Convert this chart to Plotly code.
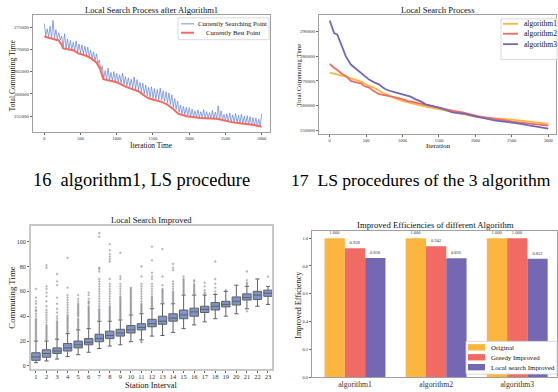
import plotly.graph_objects as go

W, H = 558, 392
def px(x): return x / W
def py(y): return 1 - y / H

SERIF = "Liberation Serif"

# ---------------- Fig 16: algorithm1 local search ----------------
search_iter = list(range(0, 3001, 20))
search_vals = [
    275800, 273000, 274600, 272800, 275200, 272700, 276500, 272600, 274400, 272300,
    273700, 272100, 273000, 270400, 273500, 270200, 272300, 270100, 272000, 270000,
    271600, 269700, 271900, 269400, 271200, 269100, 271000, 268900, 270700, 268600,
    270500, 268300, 269800, 267900, 269400, 267400, 269000, 266800, 267600, 265200,
    266300, 263500, 265200, 263300, 265800, 263100, 264800, 262900, 265000, 262800,
    264600, 262700, 264300, 262400, 264700, 262100, 263900, 261800, 263600, 261600,
    263300, 261300, 263800, 261100, 263200, 260900, 262600, 260500, 262400, 260000,
    262000, 259600, 261500, 259200, 261600, 259100, 261200, 258900, 261000, 258700,
    261300, 258600, 260700, 258300, 260500, 258000, 260200, 257600, 259800, 257000,
    258900, 256500, 258400, 255800, 257500, 255500, 257200, 255300, 257000, 255100,
    256900, 254900, 256600, 254800, 256200, 254800, 256400, 254700, 256000, 254700,
    256500, 254600, 256000, 254600, 255800, 254500, 256300, 254500, 255900, 254400,
    257300, 254200, 256200, 254100, 255400, 254000, 255500, 253800, 255700, 253700,
    255300, 253600, 255600, 253500, 255200, 253400, 255400, 253300, 255000, 253200,
    255100, 253100, 254900, 253000, 254700, 252900, 254600, 252800, 254300, 252700,
    255500,
]
best_iter = [0, 100, 200, 240, 260, 400, 470, 585, 650, 722, 768, 815, 900, 1000,
             1136, 1228, 1300, 1400, 1458, 1600, 1688, 1780, 1850, 1965, 2150, 2380,
             2517, 2600, 2747, 2900, 3000]
best_vals = [272900, 272500, 272000, 271000, 270200, 269800, 269100, 268500, 267900,
             267000, 265700, 263300, 263000, 262600, 261500, 261000, 260600, 259400,
             258900, 258300, 257700, 256600, 255500, 255000, 254600, 254400, 253900,
             253600, 253300, 253000, 252600]

# ---------------- Fig 17: three algorithms ----------------
alg1_iter = [0, 100, 220, 290, 357, 420, 494, 560, 631, 720, 814, 900, 997, 1110, 1226,
             1360, 1500, 1660, 1821, 1940, 2050, 2160, 2278, 2390, 2507, 2620, 2735, 2860, 3000]
alg1_vals = [273300, 272700, 271700, 271000, 270300, 269800, 268600, 267800, 266900,
             265300, 263900, 262900, 261900, 261000, 260200, 259400, 258600, 257600,
             256600, 255800, 255200, 255000, 254800, 254600, 254300, 253900, 253600,
             253100, 252600]
alg2_iter = [0, 50, 110, 160, 220, 290, 330, 425, 480, 540, 600, 677, 750, 814, 900, 997,
             1070, 1134, 1250, 1363, 1480, 1592, 1700, 1821, 1930, 2050, 2160, 2278, 2400,
             2507, 2620, 2735, 2860, 3000]
alg2_vals = [276900, 275500, 274300, 273000, 272000, 270000, 269600, 269000, 267800,
             267300, 266000, 264600, 264200, 263900, 263300, 262600, 261800, 261500,
             260700, 260200, 259200, 258600, 257800, 257200, 256300, 255600, 255100,
             254500, 254000, 253500, 253100, 252800, 252300, 251900]
alg3_iter = [0, 30, 60, 105, 150, 220, 290, 350, 400, 470, 540, 610, 677, 720, 768, 840,
             906, 970, 1043, 1110, 1180, 1250, 1318, 1400, 1500, 1590, 1683, 1770, 1866,
             1950, 2050, 2160, 2278, 2390, 2507, 2620, 2735, 2860, 3000]
alg3_vals = [294400, 292000, 289300, 288700, 285300, 280000, 276600, 275200, 273900,
             272300, 270500, 269400, 268600, 267500, 266600, 265800, 265200, 264600,
             264200, 263600, 262500, 261700, 260500, 260000, 259200, 258300, 257200,
             256900, 256600, 255900, 255200, 254600, 253900, 253500, 253100, 252600,
             252000, 251400, 250700]

# ---------------- Box plot: Local Search Improved ----------------
stations = list(range(1, 24))
q1 = [4.5, 7, 10, 12, 14.5, 17, 19.5, 22, 24, 26.5, 29, 31.5, 33.5, 36, 38, 40, 43, 45,
      47.5, 49, 53, 53.5, 56]
med = [7.2, 10, 12, 14.5, 17, 19, 22, 24.5, 26.5, 29, 31, 34, 36, 38.5, 41, 43.5, 45.5,
       48, 49.5, 52, 55, 57, 58.5]
q3 = [10.6, 13, 14.5, 18, 20, 22, 25.5, 28, 29.5, 32.5, 34, 37.5, 40, 42, 45, 46.5, 48,
      51, 52, 55.5, 58, 60, 61]
lo = [2.6, 4, 5.5, 7.5, 9, 11, 14, 16, 17, 19.5, 21, 24, 24.5, 27, 30, 33, 35.5, 38, 40,
      42, 46, 48, 49.5]
hi = [20, 20, 21.5, 26, 29, 30, 36, 36, 37, 41, 42, 46, 50, 50, 57, 57, 57, 57.5, 60, 65,
      64, 70, 64]
outliers = [
    [21, 22, 23, 24, 25, 26, 27, 28, 29, 30, 31, 32, 33, 34, 35, 36, 37, 38, 40, 42, 44, 45, 47, 50, 52, 55, 62],
    [21, 22, 23, 24, 25, 26, 27, 28, 29, 30, 31, 32, 33, 35, 37, 39, 41, 43, 45, 48, 52, 56, 59, 62, 64, 79, 81],
    [22, 23, 24, 25, 26, 27, 28, 29, 30, 31, 32, 33, 34, 35, 36, 38, 40, 43, 46, 50, 55, 65, 68, 74],
    [27, 28, 29, 30, 31, 32, 33, 34, 35, 36, 37, 38, 39, 40, 41, 43, 45, 47, 49, 51, 53, 55, 57, 63, 87],
    [30, 31, 32, 33, 34, 35, 36, 37, 38, 40, 41, 42, 43, 44, 45, 46, 47, 48, 49, 50, 52, 54, 57],
    [31, 32, 33, 34, 35, 36, 37, 38, 39, 40, 41, 42, 43, 44, 45, 46, 47, 48, 50, 51, 52, 54, 57, 59],
    [37, 38, 39, 40, 41, 42, 43, 44, 45, 46, 48, 50, 52, 54, 56, 58, 60, 62, 64, 66, 68, 70, 76, 78, 79, 104, 107],
    [37, 38, 39, 40, 41, 42, 43, 44, 45, 46, 47, 48, 50, 52, 54, 56, 58, 60, 62, 64, 66, 70, 84, 86, 88, 90, 93, 98],
    [38, 39, 40, 41, 42, 43, 44, 45, 46, 47, 48, 49, 50, 51, 52, 53, 54, 55, 56, 58, 60, 62, 64, 66, 70, 72, 91],
    [42, 43, 44, 45, 46, 47, 48, 49, 50, 51, 52, 53, 54, 55, 56, 57, 58, 59, 60, 61, 62, 63],
    [19, 20, 43, 44, 45, 46, 47, 48, 49, 50, 52, 54, 56, 58, 60, 62, 64, 66, 72, 80],
    [47, 48, 49, 50, 51, 52, 53, 54, 55, 56, 58, 60, 62, 64, 66, 70, 72, 75, 85, 96],
    [51, 52, 53, 54, 55, 56, 57, 58, 59, 60, 61, 62, 65, 72, 94],
    [51, 52, 53, 54, 55, 56, 57, 58, 59, 60, 62, 64, 66, 68, 77, 79, 82],
    [58, 59, 60, 61, 62, 63, 64, 65, 66, 67, 68, 69, 70, 72],
    [58, 59, 60, 61, 62, 63, 64, 65, 66, 68, 69],
    [58, 59, 61, 64, 67],
    [58, 60, 63, 66, 70, 84],
    [60, 61],
    [],
    [44, 65, 66, 67, 69, 76],
    [],
    [72],
]

# ---------------- Bar chart: Improved efficiencies ----------------
algorithms = ["algorithm1", "algorithm2", "algorithm3"]
eff_original = [1.000, 1.000, 1.000]
eff_greedy = [0.928, 0.942, 1.000]
eff_local = [0.858, 0.856, 0.852]

# colours
C_BLUE = "rgba(98,132,212,0.72)"
C_BEST = "#F26A62"
C_ORANGE = "#FCB63F"
C_RED = "#F16B64"
C_PURPLE = "#7468B2"
C_BOX = "#7D95CC"
C_BOXLINE = "#606060"
FRAME = "#a0a0a0"

fig = go.Figure()

# Fig 16
fig.add_trace(go.Scatter(x=search_iter, y=search_vals, mode="lines", name="Currently Searching Point",
                         line=dict(color=C_BLUE, width=1), xaxis="x", yaxis="y", showlegend=False))
fig.add_trace(go.Scatter(x=best_iter, y=best_vals, mode="lines", name="Currently Best Point",
                         line=dict(color=C_BEST, width=2), xaxis="x", yaxis="y", showlegend=False))
# Fig 17
for it, vals, col, nm in [(alg1_iter, alg1_vals, C_ORANGE, "algorithm1"),
                          (alg2_iter, alg2_vals, C_RED, "algorithm2"),
                          (alg3_iter, alg3_vals, C_PURPLE, "algorithm3")]:
    fig.add_trace(go.Scatter(x=it, y=vals, mode="lines", name=nm, line=dict(color=col, width=1.8),
                             xaxis="x2", yaxis="y2", showlegend=False))
# Box plot
ox, oy = [], []
for s, vals in zip(stations, outliers):
    ox += [s] * len(vals)
    oy += vals
fig.add_trace(go.Scatter(x=ox, y=oy, mode="markers", xaxis="x3", yaxis="y3", showlegend=False,
                         marker=dict(symbol="diamond", size=2.2, color="rgba(120,120,130,0.55)")))
fig.add_trace(go.Box(x=stations, q1=q1, median=med, q3=q3, lowerfence=lo, upperfence=hi,
                     xaxis="x3", yaxis="y3", width=0.8, fillcolor=C_BOX,
                     line=dict(color=C_BOXLINE, width=1), whiskerwidth=0.5,
                     boxpoints=False, showlegend=False))
# Bars
for vals, col, nm in [(eff_original, C_ORANGE, "Original"),
                      (eff_greedy, C_RED, "Greedy Improved"),
                      (eff_local, C_PURPLE, "Local search Improved")]:
    fig.add_trace(go.Bar(x=algorithms, y=vals, name=nm, marker=dict(color=col, line=dict(width=0)),
                         xaxis="x4", yaxis="y4", showlegend=False,
                         text=[f"{v:.3f}" for v in vals], textposition="outside",
                         textfont=dict(size=4.5, family=SERIF, color="#333"), cliponaxis=False))

tickf = dict(family=SERIF, color="#333")
def ax(domain, rng, **kw):
    d = dict(domain=domain, range=rng, showgrid=False, zeroline=False, showline=True,
             linecolor=FRAME, linewidth=1, mirror=True, ticks="outside", ticklen=2,
             tickcolor="#666", tickwidth=0.6)
    d.update(kw)
    return d

fig.update_layout(
    width=W, height=H, margin=dict(l=0, r=0, t=0, b=0),
    paper_bgcolor="white", plot_bgcolor="white",
    font=dict(family=SERIF, color="#222"),
    barmode="group", bargap=0.25, bargroupgap=0,
    xaxis=ax([px(33), px(270)], [-156, 3115], tickvals=[0, 500, 1000, 1500, 2000, 2500, 3000],
             tickfont=dict(size=4.5, **tickf), anchor="y"),
    yaxis=ax([py(133), py(15)], [251444, 277733], tickvals=[255000, 260000, 265000, 270000, 275000],
             tickformat="d", tickfont=dict(size=5, **tickf), anchor="x"),
    xaxis2=ax([px(319), px(556)], [-147, 3106], tickvals=[0, 500, 1000, 1500, 2000, 2500, 3000],
              tickfont=dict(size=4.5, **tickf), anchor="y2"),
    yaxis2=ax([py(135), py(15)], [248500, 296700], tickvals=[250000, 260000, 270000, 280000, 290000],
              tickformat="d", tickfont=dict(size=5, **tickf), anchor="x2"),
    xaxis3=ax([px(31), px(272)], [0.53, 23.38], tickvals=stations, linecolor="#c8c8c8", linewidth=2,
              tickfont=dict(size=6.5, **tickf), ticklabelstandoff=-2, anchor="y3"),
    yaxis3=ax([py(372), py(228)], [-2.6, 112.4], tickvals=[0, 20, 40, 60, 80, 100], linecolor="#c8c8c8",
              linewidth=2, tickfont=dict(size=6, **tickf), anchor="x3"),
    xaxis4=ax([px(312), px(557)], [-0.53, 2.49], type="category", ticks="", tickfont=dict(size=7.7, **tickf),
              anchor="y4"),
    yaxis4=ax([py(380), py(233)], [0, 1.05], tickvals=[0, 0.2, 0.4, 0.6, 0.8, 1.0], tickformat=".1f",
              tickfont=dict(size=4.5, **tickf), anchor="x4"),
)

ann = []
def text(x, y, s, size, **kw):
    d = dict(x=px(x), y=py(y), xref="paper", yref="paper", text=s, showarrow=False,
             font=dict(family=SERIF, size=size, color=kw.pop("color", "#111")),
             xanchor=kw.pop("xanchor", "center"), yanchor=kw.pop("yanchor", "middle"))
    d.update(kw)
    ann.append(d)

# titles
text(151.5, 10, "Local Search Process after Algorithm1", 8.6)
text(437.5, 10, "Local Search Process", 8.6)
text(151.5, 222, "Local Search Improved", 8.6)
text(435, 227, "Improved Efficiencies of different Algorithm", 8.7)
# axis titles
text(12, 76, "Total Commuting Time", 7.6, textangle=-90)
text(151.5, 147, "Iteration Time", 7.4)
text(298, 76, "Total Commuting Time", 6.7, textangle=-90)
text(437.5, 147, "Iteration", 7.1)
text(12, 300, "Commuting Time", 8.8, textangle=-90)
text(151.5, 388.5, "Station Interval", 8.4)
text(299, 307, "Improved Efficiency", 8.1, textangle=-90)
# captions (the second one is shown only as far as the page edge in the reference)
text(31, 181, "16\u00a0 algorithm1, LS procedure", 18.4, xanchor="left", color="#000")
text(289, 181, "17\u00a0 LS procedures of the 3 algorithm", 17.6, xanchor="left", color="#000")

shapes = []
def rect(x0, y0, x1, y1, fill="white", line="#d0d0d0", lw=0.8):
    shapes.append(dict(type="rect", xref="paper", yref="paper", x0=px(x0), x1=px(x1), y0=py(y1), y1=py(y0),
                       fillcolor=fill, line=dict(color=line, width=lw), layer="above"))
def hline(x0, x1, y, color, lw):
    shapes.append(dict(type="line", xref="paper", yref="paper", x0=px(x0), x1=px(x1), y0=py(y), y1=py(y),
                       line=dict(color=color, width=lw), layer="above"))

# legend fig16
rect(178, 18, 269, 40)
hline(181, 194, 24, C_BLUE, 1.2)
hline(181, 194, 33, C_BEST, 2)
text(232.5, 24, "Currently Searching Point", 6.6)
text(232.5, 33, "Currently Best Point", 6.6)
# legend fig17
rect(501, 19, 557, 60)
for yy, col, nm in [(24, C_ORANGE, "algorithm1"), (34, C_RED, "algorithm2"), (44.5, C_PURPLE, "algorithm3")]:
    hline(503, 518, yy, col, 1.8)
    text(522, yy, nm, 7.5, xanchor="left")
# legend bars
rect(466, 344, 557, 377)
for yy, col, nm in [(350, C_ORANGE, "Original"), (360, C_RED, "Greedy Improved"),
                    (370, C_PURPLE, "Local search Improved")]:
    shapes.append(dict(type="rect", xref="paper", yref="paper", x0=px(468), x1=px(485),
                       y0=py(yy + 3.2), y1=py(yy - 3.2), fillcolor=col, line=dict(width=0), layer="above"))
    text(488.5, yy, nm, 6.9, xanchor="left")

fig.update_layout(annotations=ann, shapes=shapes)
fig.write_html("out.html")
